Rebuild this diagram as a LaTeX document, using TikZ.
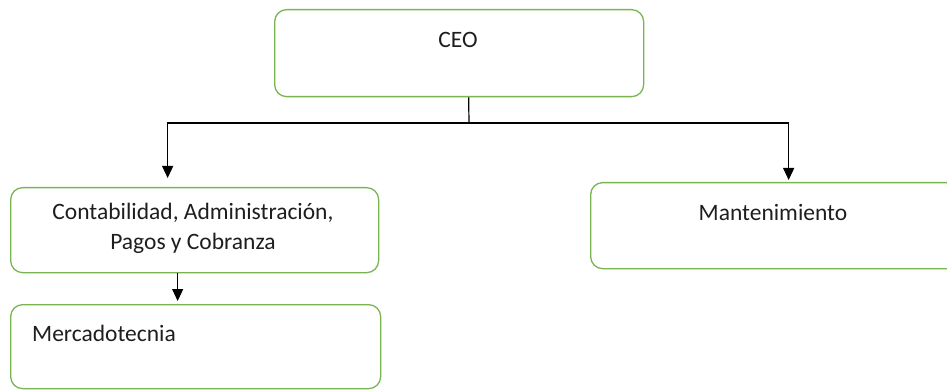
\documentclass[tikz,border=0pt]{standalone}
\usepackage{fontspec}
\setmainfont{Carlito}
\usetikzlibrary{arrows.meta,calc}
\definecolor{boxgreen}{RGB}{120,180,80}
\definecolor{txt}{RGB}{30,30,30}
\begin{document}
\begin{tikzpicture}[x=1pt,y=-1pt,
  box/.style={draw=boxgreen,line width=1.3pt,rounded corners=12pt,rectangle,inner sep=0pt,anchor=north west},
  lbl/.style={font=\fontsize{23.5}{30}\selectfont,text=txt,inner sep=0pt,align=center},
  conn/.style={draw=black,line width=1.2pt},
  arr/.style={conn,-{Triangle[length=12pt,width=11pt]}}]
\useasboundingbox (0,0) rectangle (947,390);
\node[box,minimum width=369pt,minimum height=87pt] (ceo) at (274,9) {};
\node[lbl] (ceot) at (458,40) {CEO};
\node[box,minimum width=368pt,minimum height=85pt] (acc) at (10,187) {};
\node[lbl] (acct) at (193,228) {Contabilidad, Administración,\\Pagos y Cobranza};
\node[box,minimum width=370pt,minimum height=84pt] (mer) at (10,304) {};
\node[lbl,anchor=west] (mert) at (32,333) {Mercadotecnia};
\node[box,minimum width=380pt,minimum height=86pt] (man) at (590,182) {};
\node[lbl] (mant) at (773,213) {Mantenimiento};
\coordinate (j) at (469,123);
\draw[conn] ([xshift=9.5pt]ceo.south) -- (j);
\draw[arr,shorten >=9pt] (j) -| ([xshift=-27pt]acc.north);
\draw[arr,shorten >=2pt] (j) -| ([xshift=8pt]man.north);
\draw[arr,shorten >=3pt] ([xshift=-17pt]acc.south) -- ([xshift=-18pt]mer.north);
\end{tikzpicture}
\end{document}
